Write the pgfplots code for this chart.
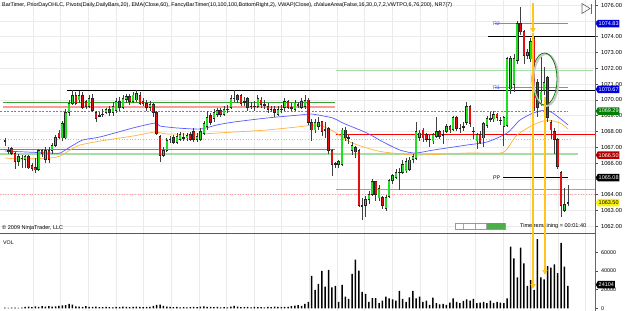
\documentclass[border=0pt]{standalone}
\usepackage{graphicx}
\usepackage{pgfplots}
\pgfplotsset{compat=1.18}
\usepackage{pgfplotstable}
\usepackage{fontspec}
\setmainfont{Liberation Sans}
\usetikzlibrary{shapes.symbols,arrows.meta}

\definecolor{upc}{HTML}{1FE01F}
\definecolor{dnc}{HTML}{E01010}
\definecolor{gridc}{HTML}{EBEBEB}
\definecolor{emac}{HTML}{5A5AFF}
\definecolor{vwapc}{HTML}{FFB33C}
\definecolor{ylw}{HTML}{FFC51A}
\definecolor{lgreen}{HTML}{A6DCA6}
\definecolor{mgreen}{HTML}{3CB43C}
\definecolor{pivb}{HTML}{8080FF}
\definecolor{pivt}{HTML}{4A4AFF}
\definecolor{pinkc}{HTML}{FF9A9A}
\definecolor{darkg}{HTML}{0F7A0F}

% t: 1 = up bar, -1 = down bar, 0 = doji
\pgfplotstableread{
i o h l c t
0 1067.4 1067.6 1067.1 1067.4 0
1 1066.8 1067.0 1066.6 1066.75 -1
2 1066.9 1067.0 1066.5 1066.6 -1
3 1066.6 1066.7 1065.6 1066.1 -1
4 1066.1 1066.6 1065.8 1066.4 1
5 1066.3 1066.5 1065.7 1066.3 0
6 1066.2 1066.5 1065.7 1066.4 1
7 1066.4 1066.5 1065.6 1065.7 -1
8 1065.85 1066.0 1065.5 1065.65 -1
9 1065.7 1066.3 1065.4 1065.6 -1
10 1065.6 1066.9 1065.5 1066.8 1
11 1066.8 1066.9 1066.4 1066.6 -1
12 1066.2 1067.0 1066.0 1066.8 1
13 1066.8 1067.0 1066.0 1066.2 -1
14 1066.8 1067.3 1066.6 1067.1 1
15 1067.1 1067.8 1067.0 1067.6 1
16 1067.9 1068.1 1067.5 1067.6 -1
17 1067.6 1068.7 1067.4 1068.5 1
18 1067.6 1069.4 1067.5 1069.2 1
19 1069.2 1070.0 1069.0 1069.8 1
20 1069.8 1070.62 1069.7 1070.3 1
21 1070.3 1070.5 1069.7 1069.8 -1
22 1070.0 1070.6 1069.8 1070.3 1
23 1070.3 1070.5 1069.4 1069.5 -1
24 1069.9 1070.0 1069.4 1069.6 -1
25 1069.6 1070.3 1069.5 1070.1 1
26 1070.1 1070.4 1069.2 1069.35 -1
27 1069.2 1069.3 1068.6 1068.8 -1
28 1069.0 1069.2 1068.9 1069.0 0
29 1069.1 1069.4 1068.9 1069.1 0
30 1069.2 1069.5 1069.1 1069.4 1
31 1069.4 1069.6 1069.0 1069.2 -1
32 1069.2 1069.9 1069.0 1069.6 1
33 1069.3 1070.1 1069.2 1069.9 1
34 1069.9 1070.2 1069.3 1069.5 -1
35 1069.5 1070.3 1069.4 1070.1 1
36 1070.0 1070.4 1069.8 1070.2 1
37 1070.2 1070.4 1069.7 1069.9 -1
38 1069.9 1070.5 1069.8 1070.3 1
39 1070.0 1070.62 1069.9 1070.4 1
40 1070.3 1070.5 1069.7 1069.8 -1
41 1069.9 1070.1 1069.6 1069.8 -1
42 1069.8 1070.0 1069.3 1069.5 -1
43 1069.5 1069.9 1069.3 1069.7 1
44 1069.7 1069.8 1068.9 1069.2 -1
45 1069.2 1069.3 1067.8 1067.9 -1
46 1067.7 1067.8 1066.1 1066.5 -1
47 1066.5 1067.0 1066.4 1066.8 1
48 1066.8 1067.6 1066.7 1067.4 1
49 1067.5 1067.7 1067.3 1067.5 0
50 1067.6 1067.8 1067.2 1067.3 -1
51 1067.3 1067.9 1067.2 1067.7 1
52 1067.5 1068.0 1067.4 1067.8 1
53 1067.6 1067.9 1067.4 1067.6 0
54 1067.6 1067.9 1067.4 1067.75 1
55 1067.8 1068.0 1067.4 1067.5 -1
56 1068.0 1068.2 1067.3 1067.5 -1
57 1067.5 1067.9 1067.3 1067.7 1
58 1067.5 1068.2 1067.4 1068.0 1
59 1067.9 1068.7 1067.8 1068.5 1
60 1068.3 1069.3 1068.1 1068.9 1
61 1069.0 1069.2 1068.4 1068.6 -1
62 1068.8 1069.4 1068.6 1069.2 1
63 1069.1 1069.5 1068.9 1069.35 1
64 1069.35 1069.5 1068.9 1069.1 -1
65 1069.1 1069.6 1069.0 1069.4 1
66 1069.4 1069.7 1069.2 1069.4 0
67 1069.5 1070.3 1069.4 1070.1 1
68 1070.1 1070.62 1069.9 1070.1 0
69 1070.3 1070.4 1069.8 1070.0 -1
70 1070.3 1070.4 1069.6 1069.8 -1
71 1069.9 1070.2 1069.6 1069.9 0
72 1070.1 1070.2 1069.3 1069.5 -1
73 1069.6 1069.9 1069.4 1069.6 0
74 1069.6 1069.9 1069.3 1069.6 0
75 1069.6 1070.3 1069.5 1070.1 1
76 1070.0 1070.2 1069.5 1069.7 -1
77 1069.7 1070.0 1069.4 1069.7 0
78 1069.6 1069.8 1069.2 1069.4 -1
79 1069.4 1069.6 1069.2 1069.4 0
80 1069.4 1069.6 1068.9 1069.2 -1
81 1069.1 1069.6 1069.0 1069.4 1
82 1069.4 1069.7 1069.2 1069.4 0
83 1069.5 1070.1 1069.3 1069.9 1
84 1069.9 1070.0 1069.4 1069.5 -1
85 1069.5 1069.8 1069.3 1069.5 0
86 1069.4 1070.0 1069.3 1069.8 1
87 1069.7 1069.9 1069.5 1069.7 0
88 1069.5 1070.1 1069.4 1069.9 1
89 1069.6 1070.3 1069.4 1069.95 1
90 1070.0 1070.1 1068.4 1068.6 -1
91 1068.6 1068.8 1067.4 1068.1 -1
92 1068.1 1068.8 1067.9 1068.6 1
93 1068.3 1068.9 1068.1 1068.6 1
94 1068.6 1068.7 1067.7 1068.0 -1
95 1068.1 1068.6 1067.6 1068.1 0
96 1068.2 1068.3 1066.6 1066.8 -1
97 1066.8 1066.9 1065.2 1065.9 -1
98 1065.95 1066.1 1065.7 1065.95 0
99 1065.9 1066.2 1065.7 1066.1 1
100 1065.9 1068.2 1065.8 1068.1 1
101 1068.1 1068.3 1067.4 1067.6 -1
102 1067.6 1067.8 1067.2 1067.6 0
103 1066.8 1067.3 1066.5 1067.1 1
104 1067.0 1067.1 1066.3 1066.7 -1
105 1066.8 1066.9 1063.2 1063.3 -1
106 1063.3 1063.8 1062.4 1063.3 0
107 1063.3 1063.9 1062.6 1063.7 1
108 1063.7 1064.2 1063.4 1064.0 1
109 1064.0 1065.0 1063.9 1064.85 1
110 1064.85 1064.9 1063.6 1064.0 -1
111 1063.8 1064.6 1063.6 1064.4 1
112 1063.8 1063.9 1063.1 1063.3 -1
113 1063.1 1064.0 1063.0 1063.8 1
114 1063.9 1065.0 1063.8 1064.9 1
115 1064.9 1065.3 1064.7 1065.2 1
116 1065.1 1065.6 1065.0 1065.4 1
117 1065.4 1065.7 1064.3 1065.4 0
118 1065.4 1066.2 1065.3 1065.9 1
119 1065.5 1066.3 1065.4 1066.1 1
120 1065.6 1066.4 1065.5 1066.2 1
121 1066.2 1066.6 1066.0 1066.4 1
122 1066.3 1068.6 1066.2 1068.0 1
123 1067.6 1068.1 1067.4 1067.9 1
124 1068.1 1068.2 1067.3 1067.6 -1
125 1067.8 1067.9 1067.3 1067.5 -1
126 1067.5 1067.8 1067.0 1067.5 0
127 1067.4 1067.9 1067.2 1067.8 1
128 1067.7 1068.9 1067.6 1068.0 1
129 1068.0 1068.1 1067.5 1067.7 -1
130 1067.8 1068.1 1067.2 1067.8 0
131 1068.0 1068.5 1067.9 1068.3 1
132 1068.3 1068.4 1067.9 1068.1 -1
133 1068.1 1069.0 1068.0 1068.9 1
134 1068.9 1069.0 1068.0 1068.2 -1
135 1068.2 1068.5 1067.9 1068.2 0
136 1068.3 1068.6 1068.0 1068.3 0
137 1068.6 1069.9 1068.4 1069.6 1
138 1069.6 1069.7 1068.3 1068.5 -1
139 1068.0 1068.3 1067.5 1068.0 0
140 1067.4 1067.9 1066.9 1067.8 1
141 1067.8 1068.0 1067.2 1067.3 -1
142 1067.6 1068.6 1067.0 1068.5 1
143 1068.4 1069.0 1068.2 1068.8 1
144 1068.8 1069.2 1068.6 1068.8 0
145 1068.8 1069.3 1068.6 1069.1 1
146 1069.1 1069.2 1068.7 1068.9 -1
147 1068.7 1068.9 1068.4 1068.7 0
148 1068.3 1069.0 1067.1 1068.9 1
149 1068.4 1072.7 1068.3 1072.6 1
150 1070.7 1072.8 1070.4 1072.6 1
151 1071.0 1072.9 1070.5 1072.6 1
152 1072.5 1075.0 1072.3 1074.85 1
153 1074.85 1075.9 1074.1 1074.3 -1
154 1074.3 1074.4 1072.3 1072.8 -1
155 1072.8 1073.2 1072.6 1073.0 1
156 1072.6 1073.9 1072.4 1073.7 1
157 1073.9 1074.0 1069.3 1069.5 -1
158 1071.1 1071.3 1068.9 1069.5 -1
159 1070.0 1072.7 1069.6 1070.5 1
160 1070.6 1072.1 1070.3 1071.1 1
161 1071.4 1071.5 1068.6 1068.9 -1
162 1068.6 1068.7 1067.5 1068.1 -1
163 1068.0 1068.2 1066.6 1067.5 -1
164 1067.5 1067.6 1065.6 1065.8 -1
165 1065.4 1065.5 1062.6 1063.3 -1
166 1063.0 1064.4 1062.9 1063.4 1
167 1063.5 1064.6 1063.3 1063.5 0
}\candles

\pgfplotstableread{
i v
0 600
1 500
2 700
3 600
4 500
5 800
6 1500
7 1800
8 1200
9 2000
10 1600
11 2200
12 1800
13 2400
14 1700
15 2000
16 2600
17 3000
18 3500
19 4600
20 3800
21 2000
22 1800
23 1500
24 2200
25 1600
26 1400
27 1800
28 1300
29 1200
30 1500
31 1300
32 1100
33 1500
34 1200
35 1800
36 1400
37 1300
38 1600
39 1900
40 1500
41 1200
42 1400
43 1600
44 2500
45 3600
46 4000
47 2600
48 1800
49 1500
50 1200
51 1400
52 1100
53 1300
54 1000
55 1200
56 1500
57 1300
58 1800
59 2000
60 1600
61 1400
62 1200
63 1500
64 1100
65 1300
66 1000
67 1800
68 2600
69 1700
70 1300
71 1200
72 1500
73 1100
74 1400
75 1200
76 1300
77 1000
78 1500
79 1200
80 1800
81 1400
82 1300
83 1600
84 1500
85 2200
86 2800
87 3500
88 2500
89 4600
90 7000
91 34600
92 19600
93 26000
94 40000
95 23200
96 41000
97 22500
98 24000
99 7000
100 25000
101 12500
102 10000
103 36800
104 52000
105 40300
106 17500
107 15300
108 7000
109 11000
110 11000
111 5400
112 8200
113 12500
114 10700
115 9600
116 8200
117 18500
118 10000
119 7000
120 11800
121 18500
122 10700
123 12500
124 6800
125 8200
126 3600
127 11400
128 5400
129 4300
130 4600
131 3600
132 6100
133 10700
134 7000
135 5400
136 7900
137 9600
138 8200
139 10000
140 5400
141 6100
142 7000
143 5400
144 8200
145 5400
146 7000
147 6000
148 5400
149 10700
150 66000
151 53500
152 33000
153 65000
154 48000
155 24000
156 30000
157 19600
158 74000
159 33000
160 31000
161 45000
162 43500
163 47000
164 37500
165 70000
166 44600
167 24104
}\vols

\pgfplotstableread{
x y
0 1066.76
13.4 1066.63
16.3 1066.63
19.3 1067.01
23.1 1067.46
28.2 1067.65
38.0 1068.22
44.5 1068.53
46.0 1068.34
51.0 1068.22
57.9 1068.15
62.9 1068.41
67.7 1068.59
77.7 1068.85
87.5 1069.04
91.1 1069.10
97.3 1068.85
100.3 1068.53
107.4 1067.90
112.2 1067.33
117.2 1066.82
121.7 1066.63
127.0 1066.82
137.1 1067.14
143.0 1067.33
149.0 1067.90
152.8 1068.72
156.7 1069.16
160.2 1069.35
162.6 1069.16
167.1 1068.41
}\ema

\pgfplotstableread{
x y
0 1066.32
4.5 1066.25
13.4 1066.32
16.3 1066.44
19.3 1066.82
22.3 1067.14
28.2 1067.39
38.0 1067.71
44.5 1067.96
48.1 1067.84
57.9 1067.84
67.7 1067.96
77.7 1068.09
87.5 1068.30
92.9 1068.41
97.3 1068.03
102.4 1067.33
107.4 1066.95
112.2 1066.70
122.3 1066.51
137.1 1066.63
146.9 1066.63
149.0 1066.89
151.9 1067.77
156.7 1068.41
160.9 1068.72
164.7 1068.53
167.1 1068.15
}\vwap

\begin{document}
\begin{tikzpicture}
\useasboundingbox (0,0) rectangle (625pt,-311pt);
\fill[white] (0,0) rectangle (625pt,-311pt);
% ---------------- price panel ----------------
\begin{axis}[
  at={(0pt,0pt)}, anchor=north west,
  scale only axis, width=595pt, height=233pt,
  xmin=-1.48, xmax=175.07, ymin=1061.57, ymax=1076.32,
  axis line style={draw=none},
  xtick={8.3,16.5,...,172}, xticklabels={}, xtick style={draw=none},
  scaled x ticks=false, scaled y ticks=false,
  xmajorgrids, ymajorgrids,
  grid style={gridc, line width=0.5pt},
  ytick={1062,1063,...,1076},
  yticklabels={1062.00,1063.00,1064.00,{},1066.00,1067.00,1068.00,1069.00,1070.00,1071.00,1072.00,1073.00,1074.00,{},1076.00},
  ytick pos=right, yticklabel pos=right,
  tick align=outside, major tick length=2.5pt,
  ytick style={black!70, line width=0.4pt},
  yticklabel style={font=\fontsize{5.8}{6}\selectfont},
  clip=false,
]
% level lines
\addplot[pinkc, line width=0.7pt, dotted, forget plot] coordinates {(-1.48,1064.0) (175.07,1064.0)};
\addplot[mgreen!75, line width=0.9pt, forget plot] coordinates {(98.2,1064.34) (175.07,1064.34)};
\addplot[black, line width=0.7pt, forget plot] coordinates {(147.8,1065.08) (167.1,1065.08)};
\addplot[lgreen, line width=1.6pt, forget plot] coordinates {(-1.48,1066.58) (170.0,1066.58)};
\addplot[mgreen, line width=0.9pt, forget plot] coordinates {(-1.48,1066.87) (97.9,1066.87)};
\addplot[lgreen!80!green, line width=0.7pt, dotted, forget plot] coordinates {(-1.48,1067.5) (167.7,1067.5)};
\addplot[red, line width=0.9pt, forget plot] coordinates {(98.2,1067.82) (175.07,1067.82)};
\addplot[mgreen, line width=0.6pt, dash pattern=on 2pt off 1.5pt, forget plot] coordinates {(-1.48,1069.29) (167.1,1069.29)};
\addplot[pinkc, line width=1.8pt, forget plot] coordinates {(-0.59,1069.57) (97.9,1069.57)};
\addplot[mgreen!90!black, line width=0.9pt, forget plot] coordinates {(-0.59,1069.83) (97.9,1069.83)};
\addplot[black, line width=0.8pt, forget plot] coordinates {(18.4,1070.6) (175.07,1070.6)};
\addplot[pivb, line width=0.8pt, forget plot] coordinates {(145.4,1070.78) (167.1,1070.78)};
\addplot[lgreen, line width=1.2pt, forget plot] coordinates {(98.2,1071.84) (174.5,1071.84)};
\addplot[black, line width=0.8pt, forget plot] coordinates {(143.3,1074.0) (175.07,1074.0)};
\addplot[pivb, line width=0.8pt, forget plot] coordinates {(145.4,1074.83) (167.1,1074.83)};
% EMA and VWAP
\addplot[emac, line width=0.7pt, smooth, tension=0.4, forget plot] table[x=x,y=y] {\ema};
\addplot[vwapc, line width=0.7pt, smooth, tension=0.4, forget plot] table[x=x,y=y] {\vwap};
% wicks
\addplot[draw=none, mark=none, forget plot, error bars/.cd, y dir=both, y explicit, error mark=none,
  error bar style={draw=black!75, line width=0.55pt}]
  table[x=i, y expr={(\thisrow{h}+\thisrow{l})/2}, y error expr={(\thisrow{h}-\thisrow{l})/2}] {\candles};
% body outlines
\addplot[draw=none, mark=none, forget plot, error bars/.cd, y dir=both, y explicit, error mark=none,
  error bar style={draw=black!85, line width=2.5pt}]
  table[x=i, y expr={(\thisrow{o}+\thisrow{c})/2}, y error expr={abs(\thisrow{c}-\thisrow{o})/2+0.03}] {\candles};
% up bodies
\addplot[draw=none, mark=none, forget plot, error bars/.cd, y dir=both, y explicit, error mark=none,
  error bar style={draw=upc, line width=1.7pt}]
  table[x=i, y expr={(\thisrow{o}+\thisrow{c})/2}, y error expr={(\thisrow{t}>0)*max(abs(\thisrow{c}-\thisrow{o})/2-0.025,0.001)}] {\candles};
% down bodies
\addplot[draw=none, mark=none, forget plot, error bars/.cd, y dir=both, y explicit, error mark=none,
  error bar style={draw=dnc, line width=1.7pt}]
  table[x=i, y expr={(\thisrow{o}+\thisrow{c})/2}, y error expr={(\thisrow{t}<0)*max(abs(\thisrow{c}-\thisrow{o})/2-0.025,0.001)}] {\candles};
% pivot labels
\node[anchor=west, text=pivt, font=\fontsize{5.3}{6}\selectfont, inner sep=0.5pt] at (axis cs:144.6,1074.83) {R2};
\node[anchor=west, text=pivt, font=\fontsize{5.3}{6}\selectfont, inner sep=0.5pt] at (axis cs:144.6,1070.78) {R1};
\node[anchor=west, text=black, font=\fontsize{5.3}{6}\selectfont, inner sep=0.5pt] at (axis cs:144.6,1065.08) {PP};
\coordinate (LA) at (axis cs:175.07,1074.83);
\coordinate (LB) at (axis cs:175.07,1070.67);
\coordinate (LC) at (axis cs:175.07,1069.29);
\coordinate (LD) at (axis cs:175.07,1066.50);
\coordinate (LE) at (axis cs:175.07,1065.08);
\coordinate (LF) at (axis cs:175.07,1063.50);
\end{axis}
% ---------------- volume panel ----------------
\begin{axis}[
  at={(0pt,-234pt)}, anchor=north west,
  scale only axis, width=595pt, height=77pt,
  xmin=-1.48, xmax=175.07, ymin=-2890, ymax=79430,
  axis line style={draw=none},
  xtick={8.3,16.5,...,172}, xticklabels={}, xtick style={draw=none},
  scaled x ticks=false, scaled y ticks=false,
  xmajorgrids, grid style={gridc, line width=0.5pt},
  ytick={0,20000,40000,60000},
  yticklabels={0,20000,40000,60000},
  ytick pos=right, yticklabel pos=right,
  tick align=outside, major tick length=2.5pt,
  ytick style={black!70, line width=0.4pt},
  yticklabel style={font=\fontsize{5.4}{6}\selectfont},
  clip=false,
]
\addplot[ybar, bar width=1.5pt, fill=black, draw=none] table[x=i,y=v] {\vols};
\coordinate (LV) at (axis cs:175.07,25200);
\end{axis}
% frame lines
\draw[black!65, line width=0.9pt] (0pt,-233.5pt) -- (595pt,-233.5pt);
\draw[black!60, line width=0.6pt] (595pt,0pt) -- (595pt,-311pt);
% right-hand price markers
\tikzset{lbl/.style={signal, signal to=west, signal pointer angle=120, inner xsep=0.8pt, inner ysep=0.5pt, minimum height=7.5pt, anchor=west, font=\fontsize{5.5}{6}\selectfont}}
\node[lbl, fill=blue!85!black, text=white] at ([xshift=0.5pt]LA) {1074.83};
\node[lbl, fill=blue!85!black, text=white] at ([xshift=0.5pt]LB) {1070.67};
\node[lbl, fill=green!50!black, text=white] at ([xshift=0.5pt]LC) {1069.29};
\node[lbl, fill=red!70!black, text=white] at ([xshift=0.5pt]LD) {1066.50};
\node[lbl, fill=black, text=white] at ([xshift=0.5pt]LE) {1065.08};
\node[lbl, fill=yellow, text=black] at ([xshift=0.5pt]LF) {1063.50};
\node[lbl, fill=black, text=white] at ([xshift=0.5pt]LV) {24104};
% texts
\node[anchor=west, inner sep=0pt] at (2pt,-5pt) {\resizebox{450pt}{!}{BarTimer, PriorDayOHLC, Pivots(Daily,DailyBars,20), EMA(Close,60), FancyBarTimer(10,100,100,BottomRight,2), VWAP(Close), dValueArea(False,16,30,0,7,2,VWTPO,6,76,200), NR7(7)}};
\node[anchor=west, inner sep=0pt] at (2pt,-228pt) {\resizebox{61pt}{!}{© 2009 NinjaTrader, LLC}};
\node[anchor=west, inner sep=0pt] at (520pt,-226pt) {\resizebox{66pt}{!}{Time remaining = 00:01:40}};
\node[anchor=west, inner sep=0pt, font=\fontsize{5.3}{6}\selectfont] at (3pt,-243pt) {VOL};
% progress bar
\draw[black!40, fill=white, line width=0.4pt] (455pt,-223pt) rectangle (505pt,-229pt);
\fill[green!55!black!70] (487pt,-223.4pt) rectangle (504.6pt,-228.6pt);
\foreach \xx in {463,475,486} {\draw[black!35, line width=0.4pt] (\xx pt,-223.5pt) -- (\xx pt,-228.5pt);}
% top-right icon
\draw[black!60, line width=0.6pt] (582pt,-3.5pt) -- (590pt,-8.5pt) -- (582pt,-13.5pt) -- cycle;
\draw[black!60, line width=0.8pt] (591.5pt,-3.5pt) -- (591.5pt,-13.5pt);
% annotations
\draw[gray!45, line width=1.8pt] (546pt,-80pt) ellipse [x radius=12.5pt, y radius=26pt];
\draw[darkg, line width=0.8pt] (544.5pt,-79pt) ellipse [x radius=12.5pt, y radius=26pt];
\draw[ylw, line width=1.6pt, -{Triangle[length=5pt,width=5pt]}] (533pt,-3pt) -- (533pt,-33pt);
\draw[ylw, line width=1.6pt, -{Triangle[length=5pt,width=5pt]}] (533pt,-33pt) -- (533pt,-289pt);
\draw[ylw, line width=1.6pt, -{Triangle[length=5pt,width=5pt]}] (545pt,-97pt) -- (545pt,-275pt);
\end{tikzpicture}
\end{document}
